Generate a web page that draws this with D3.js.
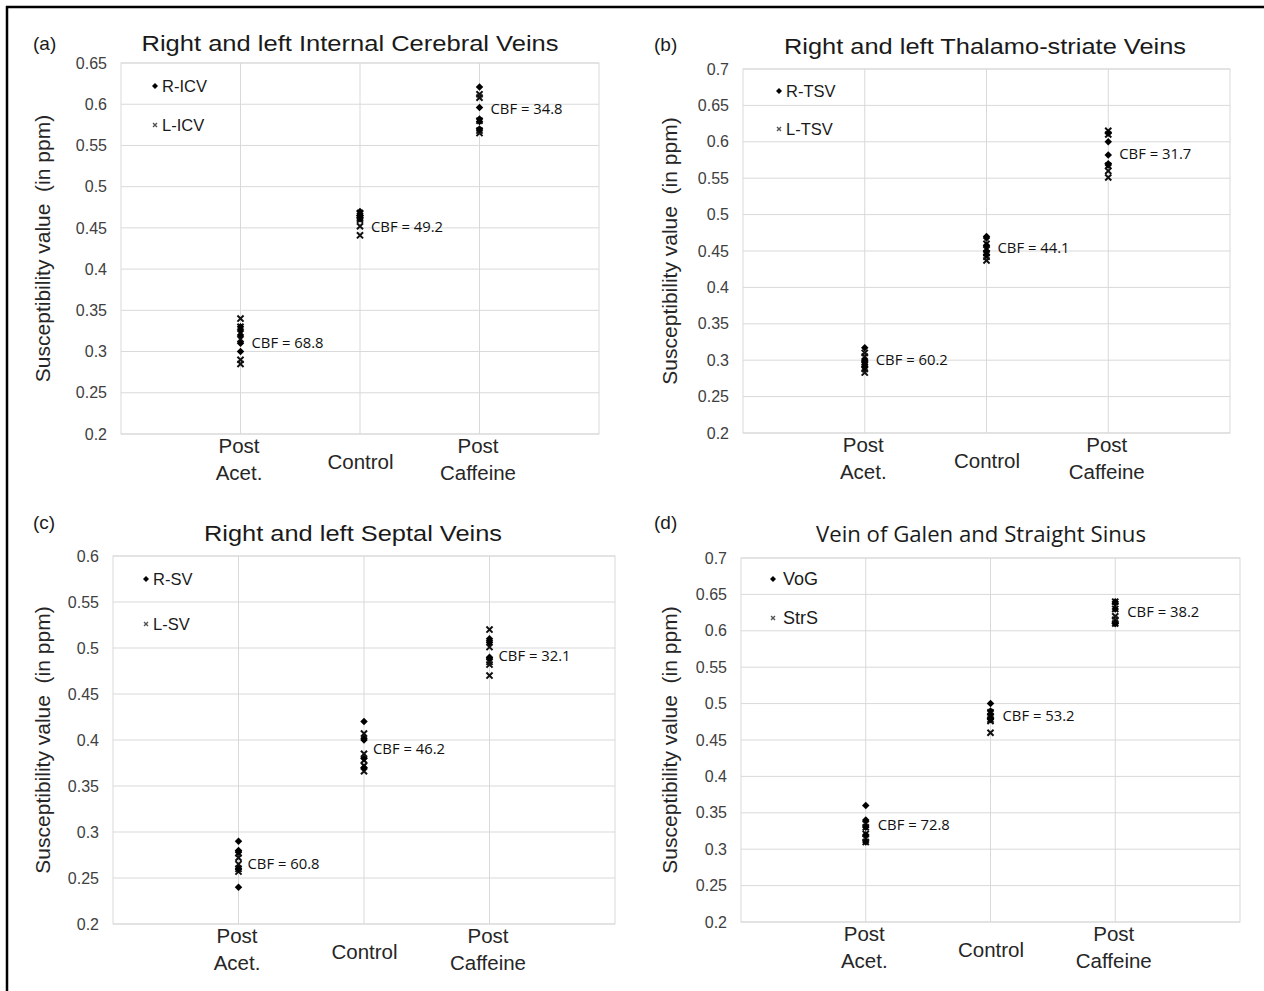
<!DOCTYPE html>
<html><head><meta charset="utf-8">
<script src="https://cdn.jsdelivr.net/npm/d3@7"></script>
<style>body{margin:0;background:#fff} svg{display:block}</style>
</head><body><svg id="c" width="1264" height="991"></svg>
<script>
// ---------- DATA ----------
const categories = [["Post","Acet."],["Control"],["Post","Caffeine"]];

const yTicksA = [0.2,0.25,0.3,0.35,0.4,0.45,0.5,0.55,0.6,0.65];
const yTicksB = [0.2,0.25,0.3,0.35,0.4,0.45,0.5,0.55,0.6,0.65,0.7];
const yTicksC = [0.2,0.25,0.3,0.35,0.4,0.45,0.5,0.55,0.6];
const yTicksD = [0.2,0.25,0.3,0.35,0.4,0.45,0.5,0.55,0.6,0.65,0.7];

// (a) Internal Cerebral Veins
const rICV = [[0.330,0.325,0.320,0.310,0.300],[0.470,0.467,0.465,0.463,0.461],[0.621,0.596,0.582,0.579,0.570]];
const lICV = [[0.340,0.330,0.315,0.290,0.285],[0.468,0.462,0.460,0.452,0.441],[0.612,0.608,0.580,0.568,0.565]];
const cbfICV = ["CBF = 68.8","CBF = 49.2","CBF = 34.8"];
const cbfICVy = [0.311,0.451,0.594];

// (b) Thalamo-striate Veins
const rTSV = [[0.317,0.300,0.297,0.294,0.290],[0.470,0.468,0.458,0.450,0.445],[0.612,0.600,0.582,0.570,0.568]];
const lTSV = [[0.310,0.305,0.295,0.288,0.283],[0.460,0.452,0.447,0.442,0.437],[0.615,0.610,0.567,0.560,0.551]];
const cbfTSV = ["CBF = 60.2","CBF = 44.1","CBF = 31.7"];
const cbfTSVy = [0.301,0.455,0.583];

// (c) Septal Veins
const rSV = [[0.290,0.280,0.278,0.260,0.240],[0.420,0.402,0.400,0.380,0.370],[0.510,0.508,0.506,0.490,0.489]];
const lSV = [[0.277,0.272,0.265,0.260,0.257],[0.407,0.385,0.378,0.372,0.366],[0.520,0.501,0.485,0.482,0.470]];
const cbfSV = ["CBF = 60.8","CBF = 46.2","CBF = 32.1"];
const cbfSVy = [0.265,0.390,0.492];

// (d) Vein of Galen / Straight Sinus
const vog  = [[0.360,0.340,0.330,0.320,0.310],[0.500,0.490,0.485,0.480,0.478],[0.640,0.638,0.630,0.610,0.610]];
const strs = [[0.335,0.330,0.321,0.315,0.310],[0.488,0.483,0.478,0.476,0.460],[0.640,0.630,0.620,0.615,0.610]];
const cbfVS = ["CBF = 72.8","CBF = 53.2","CBF = 38.2"];
const cbfVSy = [0.334,0.483,0.626];

const legendA = ["R-ICV","L-ICV"];
const legendB = ["R-TSV","L-TSV"];
const legendC = ["R-SV","L-SV"];
const legendD = ["VoG","StrS"];

const titles = ["Right and left Internal Cerebral Veins","Right and left Thalamo-striate Veins","Right and left Septal Veins","Vein of Galen and Straight Sinus"];
const letters = ["(a)","(b)","(c)","(d)"];
const yAxisTitle = "Susceptibility value  (in ppm)";

// ---------- LAYOUT ----------
const panels = [
  {left:121,right:599,top:63,bottom:434,ticks:yTicksA,r:rICV,l:lICV,cbf:cbfICV,cbfy:cbfICVy,legend:legendA,
   letterX:33,letterY:50,titleX:350,titleY:51,titleW:417,titleFont:"Liberation Sans, Arial, sans-serif",titleSize:22,
   yTitleX:50,legX:155,legY:[86,125],cbfDx:11},
  {left:743,right:1230,top:69,bottom:433,ticks:yTicksB,r:rTSV,l:lTSV,cbf:cbfTSV,cbfy:cbfTSVy,legend:legendB,
   letterX:654,letterY:51,titleX:985,titleY:54,titleW:402,titleFont:"Liberation Sans, Arial, sans-serif",titleSize:22,
   yTitleX:677,legX:779,legY:[91,129],cbfDx:11},
  {left:113,right:615,top:556,bottom:924,ticks:yTicksC,r:rSV,l:lSV,cbf:cbfSV,cbfy:cbfSVy,legend:legendC,
   letterX:33,letterY:529,titleX:353,titleY:541,titleW:298,titleFont:"Liberation Sans, Arial, sans-serif",titleSize:22,
   yTitleX:50,legX:146,legY:[579,624],cbfDx:9},
  {left:741,right:1240,top:558,bottom:922,ticks:yTicksD,r:vog,l:strs,cbf:cbfVS,cbfy:cbfVSy,legend:legendD,
   letterX:654,letterY:529,titleX:981,titleY:542,titleW:330,titleFont:"Open Sans, Noto Sans, sans-serif",titleSize:21,
   yTitleX:677,legX:773,legY:[579,618],cbfDx:12}
];

const svg = d3.select("#c");
svg.append("rect").attr("width",1264).attr("height",991).attr("fill","#fff");

// frame lines (left and top)
svg.append("line").attr("x1",7).attr("y1",6).attr("x2",7).attr("y2",991).attr("stroke","#000").attr("stroke-width",2.5);
svg.append("line").attr("x1",6).attr("y1",7).attr("x2",1264).attr("y2",7).attr("stroke","#000").attr("stroke-width",2.5);

const diamond = d3.symbol().type(d3.symbolSquare).size(28);   // rotated 45deg below
const cross = d3.symbol().type(d3.symbolTimes).size(26);
const legCross = d3.symbol().type(d3.symbolTimes).size(12);

panels.forEach((p,pi)=>{
  const g = svg.append("g");
  const x = d3.scalePoint().domain(categories.map((c,i)=>i)).range([p.left,p.right]).padding(1);
  const y = d3.scaleLinear().domain([d3.min(p.ticks),d3.max(p.ticks)]).range([p.bottom,p.top]);

  // horizontal gridlines
  g.append("g").selectAll("line").data(p.ticks).join("line")
    .attr("x1",p.left).attr("x2",p.right).attr("y1",d=>y(d)).attr("y2",d=>y(d))
    .attr("stroke","#d9d9d9").attr("stroke-width",1);
  // vertical gridlines
  g.append("g").selectAll("line").data(x.domain()).join("line")
    .attr("x1",d=>x(d)).attr("x2",d=>x(d)).attr("y1",p.top).attr("y2",p.bottom)
    .attr("stroke","#d9d9d9").attr("stroke-width",1);
  // plot border
  g.append("rect").attr("x",p.left).attr("y",p.top).attr("width",p.right-p.left).attr("height",p.bottom-p.top)
    .attr("fill","none").attr("stroke","#d9d9d9").attr("stroke-width",1);

  // y axis
  const ya = g.append("g").attr("transform",`translate(${p.left},0)`)
    .call(d3.axisLeft(y).tickValues(p.ticks).tickSize(0).tickPadding(14).tickFormat(d=>String(+d.toFixed(2))));
  ya.select(".domain").remove();
  ya.selectAll("text").attr("font-family","Liberation Sans, Arial, sans-serif").attr("font-size",16).attr("fill","#404040");

  // x axis
  const xa = g.append("g").attr("transform",`translate(0,${p.bottom})`)
    .call(d3.axisBottom(x).tickSize(0).tickFormat(()=>""));
  xa.select(".domain").remove();
  xa.selectAll(".tick text").each(function(i){
    const t = d3.select(this).attr("dy",null).attr("y",null)
      .attr("font-family","Liberation Sans, Arial, sans-serif").attr("font-size",20.5).attr("fill","#262626");
    const lines = categories[i];
    if(lines.length===1){
      t.append("tspan").attr("x",0).attr("y",35).text(lines[0]);
    } else {
      lines.forEach((s,k)=>t.append("tspan").attr("x",-2).attr("y",19+k*27).text(s));
    }
  });

  // y axis title
  g.append("text").attr("transform",`translate(${p.yTitleX},${(p.top+p.bottom)/2}) rotate(-90)`)
    .attr("text-anchor","middle").attr("font-family","Liberation Sans, Arial, sans-serif").attr("font-size",21)
    .attr("fill","#262626").style("white-space","pre").text(yAxisTitle);

  // title and letter
  g.append("text").attr("x",p.titleX).attr("y",p.titleY).attr("text-anchor","middle")
    .attr("font-family",p.titleFont).attr("font-size",p.titleSize).attr("fill","#1a1a1a")
    .attr("textLength",p.titleW).attr("lengthAdjust","spacingAndGlyphs").text(titles[pi]);
  g.append("text").attr("x",p.letterX).attr("y",p.letterY)
    .attr("font-family","Liberation Sans, Arial, sans-serif").attr("font-size",19).attr("fill","#1a1a1a").text(letters[pi]);

  // points: L series (cross) then R series (diamond)
  const lPts = p.l.flatMap((vals,ci)=>vals.map(v=>({c:ci,v})));
  const rPts = p.r.flatMap((vals,ci)=>vals.map(v=>({c:ci,v})));
  g.append("g").selectAll("path").data(lPts).join("path")
    .attr("transform",d=>`translate(${x(d.c)},${y(d.v)})`).attr("d",cross)
    .attr("fill","none").attr("stroke","#111").attr("stroke-width",2);
  g.append("g").selectAll("path").data(rPts).join("path")
    .attr("transform",d=>`translate(${x(d.c)},${y(d.v)}) rotate(45)`).attr("d",diamond).attr("fill","#000");

  // CBF annotations
  g.append("g").selectAll("text").data(p.cbf).join("text")
    .attr("x",(d,i)=>x(i)+p.cbfDx).attr("y",(d,i)=>y(p.cbfy[i])).attr("dy","0.36em")
    .attr("font-family","Open Sans, Noto Sans, sans-serif").attr("font-size",14.5).attr("fill","#111")
    .attr("textLength",72).attr("lengthAdjust","spacingAndGlyphs").text(d=>d);

  // legend
  const lg = g.append("g");
  lg.append("path").attr("transform",`translate(${p.legX},${p.legY[0]}) rotate(45)`).attr("d",d3.symbol().type(d3.symbolSquare).size(18)).attr("fill","#000");
  lg.append("path").attr("transform",`translate(${p.legX},${p.legY[1]})`).attr("d",legCross)
    .attr("fill","none").attr("stroke","#555").attr("stroke-width",1.4);
  p.legend.forEach((s,k)=>{
    lg.append("text").attr("x",p.legX+(pi===3?10:7)).attr("y",p.legY[k]).attr("dy","0.36em")
      .attr("font-family","Liberation Sans, Arial, sans-serif").attr("font-size",pi===3?18:16.5).attr("fill","#1a1a1a").text(s);
  });
});
</script></body></html>
